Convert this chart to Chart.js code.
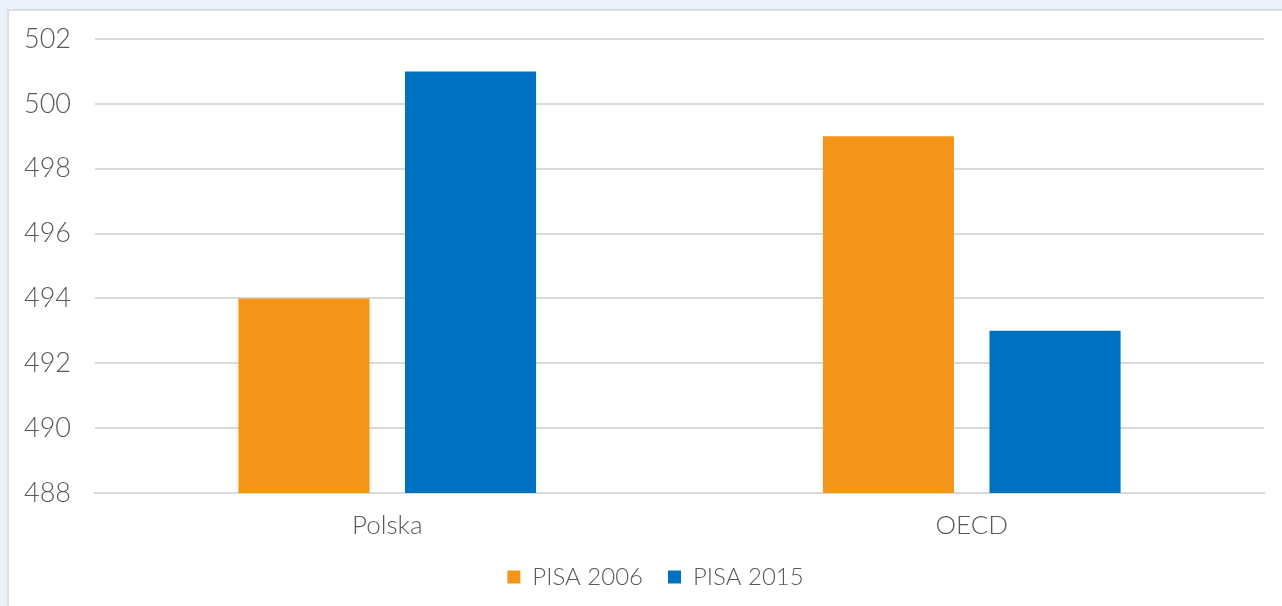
<!DOCTYPE html>
<html>
<head>
<meta charset="utf-8">
<script src="https://cdn.jsdelivr.net/npm/chart.js@4/dist/chart.umd.min.js"></script>
<style>
    html, body {margin: 0; padding: 0; background: #eaf1f9; overflow: hidden;}
    #card {
        position: absolute; left: 7px; top: 9px; width: 1290px; height: 610px;
        background: #fff; border-top: 2px solid #dcdfe3; border-left: 2px solid #dcdfe3;
    }
    #wrap {position: absolute; left: 0; top: 0; width: 1273px; height: 595px;}
</style>
</head>
<body>
<div id="card"><div id="wrap"><canvas id="chart"></canvas></div></div>
<script>
const categories = ["Polska", "OECD"];
const pisa2006 = [494, 499];
const pisa2015 = [501, 493];
const seriesNames = ["PISA 2006", "PISA 2015"];
const yTicks = [488, 490, 492, 494, 496, 498, 500, 502];

const textColor = "#595959";
const fontFamily = "Lato, 'Helvetica Neue', sans-serif";

// the legend in the original sits a bit right of the canvas centre
const legendShift = {
    id: "legendShift",
    afterLayout(chart) {
        chart.legend.left += 19;
        chart.legend.right += 19;
    }
};

new Chart(document.getElementById("chart"), {
    type: "bar",
    data: {
        labels: categories,
        datasets: [{
                label: seriesNames[0],
                data: pisa2006,
                backgroundColor: "#f39519"
            }, {
                label: seriesNames[1],
                data: pisa2015,
                backgroundColor: "#0070c0"
            }]
    },
    plugins: [legendShift],
    options: {
        responsive: true,
        maintainAspectRatio: false,
        animation: false,
        categoryPercentage: 0.57,
        barPercentage: 0.787,
        layout: {padding: {top: 28, right: 18, left: 0, bottom: 7}},
        plugins: {
            tooltip: {enabled: false},
            legend: {
                position: "bottom",
                labels: {
                    color: textColor,
                    font: {family: fontFamily, size: 24, weight: 300},
                    boxWidth: 13,
                    boxHeight: 13,
                    padding: 25
                }
            }
        },
        scales: {
            x: {
                grid: {display: false},
                border: {color: "#d9d9d9", width: 2},
                ticks: {color: textColor, font: {family: fontFamily, size: 26, weight: 300}, padding: 9},
                afterFit: function (scale) {
                    scale.height = 47;
                }
            },
            y: {
                min: yTicks[0],
                max: yTicks[yTicks.length - 1],
                afterBuildTicks: function (scale) {
                    scale.ticks = yTicks.map(v => ({value: v}));
                },
                grid: {color: "#d9d9d9", lineWidth: 2, drawTicks: false},
                border: {display: false},
                ticks: {color: textColor, font: {family: fontFamily, size: 27, weight: 300}, padding: 24},
                afterFit: function (scale) {
                    scale.width = 86;
                    scale.paddingTop = 0;
                    scale.paddingBottom = 0;
                }
            }
        }
    }
});
</script>
</body>
</html>
